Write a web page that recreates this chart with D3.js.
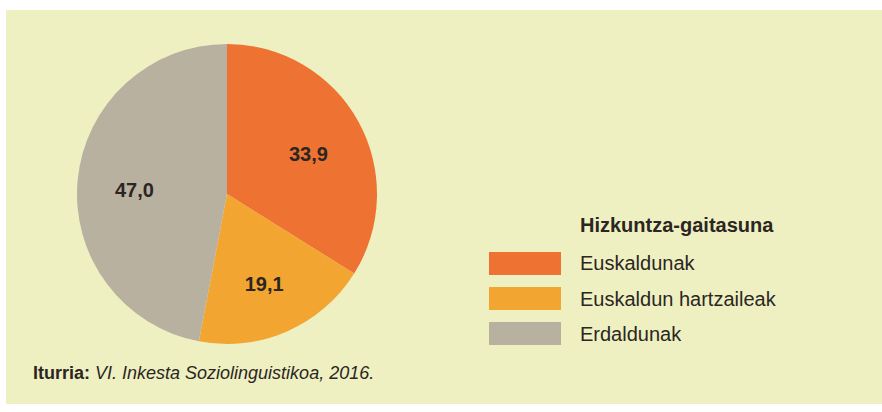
<!DOCTYPE html>
<html>
<head>
<meta charset="utf-8">
<script src="https://cdn.jsdelivr.net/npm/d3@7/dist/d3.min.js"></script>
<style>
  body { margin: 0; background: #fff; }
  text { font-family: "Liberation Sans", Arial, Helvetica, sans-serif; }
</style>
</head>
<body>
<div id="chart"></div>
<script>
// datuak
var categories = ["Euskaldunak", "Euskaldun hartzaileak", "Erdaldunak"];
var values = [33.9, 19.1, 47.0];
var colors = ["#ee7231", "#f3a531", "#b9b19f"];
var legendTitle = "Hizkuntza-gaitasuna";

var width = 882,
    height = 412;

var svg = d3.select("#chart").append("svg")
    .attr("width", width)
    .attr("height", height);

svg.append("rect")
    .attr("x", 6).attr("y", 10)
    .attr("width", width - 6).attr("height", 394)
    .attr("fill", "#eef0c1");

var data = categories.map(function(c, i) { return { name: c, value: values[i], color: colors[i] }; });

var radius = 150;
var g = svg.append("g").attr("transform", "translate(227,194)");

var pie = d3.pie().sort(null).value(function(d) { return d.value; });
var arc = d3.arc().innerRadius(0).outerRadius(radius);
var labelArc = d3.arc().innerRadius(radius * 0.62).outerRadius(radius * 0.62);

var slices = g.selectAll(".slice")
    .data(pie(data))
    .enter().append("g")
    .attr("class", "slice");

slices.append("path")
    .attr("d", arc)
    .attr("fill", function(d) { return d.data.color; });

var fmt = function(v) { return v.toFixed(1).replace(".", ","); };

slices.append("text")
    .attr("transform", function(d) { return "translate(" + labelArc.centroid(d) + ")"; })
    .attr("text-anchor", "middle")
    .attr("dy", "0.6em")
    .attr("font-size", 20)
    .attr("font-weight", "bold")
    .attr("fill", "#2b2622")
    .text(function(d) { return fmt(d.data.value); });

// legenda
var legend = svg.append("g").attr("transform", "translate(489,0)");

legend.append("text")
    .attr("x", 91).attr("y", 232)
    .attr("font-size", 20)
    .attr("font-weight", "bold")
    .attr("fill", "#2b2622")
    .text(legendTitle);

var y = d3.scaleBand().domain(categories).range([252, 345]).paddingInner(0.343).paddingOuter(0);

var items = legend.selectAll(".item")
    .data(data)
    .enter().append("g")
    .attr("class", "item");

items.append("rect")
    .attr("x", 0)
    .attr("y", function(d) { return y(d.name); })
    .attr("width", 72)
    .attr("height", y.bandwidth())
    .attr("fill", function(d) { return d.color; });

items.append("text")
    .attr("x", 91)
    .attr("y", function(d) { return y(d.name) + y.bandwidth() / 2; })
    .attr("dy", "0.35em")
    .attr("font-size", 20)
    .attr("fill", "#2b2622")
    .text(function(d) { return d.name; });

// iturria
var src = svg.append("text")
    .attr("x", 33).attr("y", 379)
    .attr("font-size", 18)
    .attr("fill", "#2b2622");
src.append("tspan").attr("font-weight", "bold").text("Iturria: ");
src.append("tspan").attr("font-style", "italic").text("VI. Inkesta Soziolinguistikoa, 2016.");
</script>
</body>
</html>
